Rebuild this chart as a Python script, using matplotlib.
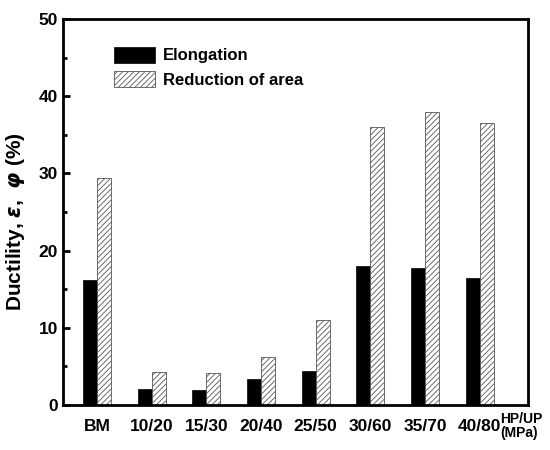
import numpy as np
import matplotlib.pyplot as plt
from matplotlib.ticker import MultipleLocator

categories = ['BM', '10/20', '15/30', '20/40', '25/50', '30/60', '35/70', '40/80']
elongation = [16.2, 2.1, 2.0, 3.4, 4.4, 18.0, 17.7, 16.4]
reduction_area = [29.4, 4.3, 4.1, 6.2, 11.0, 36.0, 38.0, 36.5]

plt.rcParams['font.family'] = ['Liberation Sans', 'DejaVu Sans']
plt.rcParams['font.weight'] = 'bold'
plt.rcParams['hatch.color'] = '#555555'
plt.rcParams['hatch.linewidth'] = 0.6

fig = plt.figure(figsize=(5.5, 4.5), dpi=100)
ax = fig.add_axes([63 / 550, 45 / 450, 465 / 550, 386 / 450])

x = np.arange(len(categories))
w = 0.256
ax.bar(x - w / 2, elongation, w, color='black', edgecolor='black', linewidth=0.5, label='Elongation')
ax.bar(x + w / 2, reduction_area, w, color='white', edgecolor='#555555', linewidth=0.6,
       hatch='//////', label='Reduction of area')

ax.set_xlim(-0.62, 7.88)
ax.set_ylim(0, 50)
ax.yaxis.set_major_locator(MultipleLocator(10))
ax.yaxis.set_minor_locator(MultipleLocator(5))
ax.tick_params(axis='y', which='both', direction='in', width=2, labelsize=12.5)
ax.tick_params(axis='y', which='major', length=5)
ax.tick_params(axis='y', which='minor', length=3)
ax.set_xticks(x)
ax.set_xticklabels(categories)
ax.tick_params(axis='x', length=0, labelsize=12.5, pad=10)
for lab in ax.get_xticklabels() + ax.get_yticklabels():
    lab.set_fontweight('bold')
for s in ax.spines.values():
    s.set_linewidth(2)

ax.set_ylabel(r'Ductility, $\varepsilon$,  $\varphi$ (%)', fontsize=15, fontweight='bold')
ax.yaxis.set_label_coords(-0.077, 0.474)
ax.text(0.94, -0.018, 'HP/UP\n(MPa)', transform=ax.transAxes, ha='left', va='top',
        fontsize=10, fontweight='bold', linespacing=1.05)

ax.legend(loc='upper left', bbox_to_anchor=(0.077, 0.967), frameon=False,
          handlelength=2.5, handleheight=1.1, handletextpad=0.45, labelspacing=0.45,
          prop={'weight': 'bold', 'size': 12})

fig.savefig('out.png', dpi=100)
